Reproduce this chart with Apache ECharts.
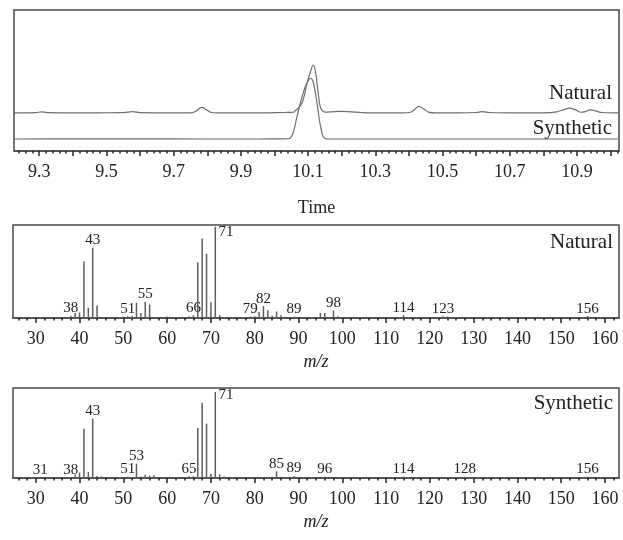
<!DOCTYPE html>
<html>
<head>
<meta charset="utf-8">
<script src="https://cdn.jsdelivr.net/npm/echarts@6/dist/echarts.min.js"></script>
<style>
  html, body { margin: 0; padding: 0; background: #fff; }
  #chart { width: 623px; height: 540px; }
</style>
</head>
<body>
<div id="chart"></div>
<script>
// Total ion chromatograms: [retention time (min), detector response]
const naturalTrace = [
  [9.225, 27.0], [9.26, 27.0], [9.29, 27.3], [9.308, 27.7], [9.33, 27.2], [9.40, 27.0],
  [9.48, 27.1], [9.55, 27.2], [9.578, 27.9], [9.60, 27.2], [9.70, 27.0], [9.75, 27.0],
  [9.765, 28.0], [9.775, 30.0], [9.784, 30.9], [9.795, 29.6], [9.81, 27.5], [9.83, 27.0],
  [9.90, 27.0], [9.98, 27.1], [10.03, 27.3], [10.057, 27.5], [10.062, 28.6], [10.071, 30.5],
  [10.082, 34.0], [10.089, 39.7], [10.097, 48.2], [10.107, 56.2], [10.115, 61.0],
  [10.122, 56.2], [10.129, 43.3], [10.135, 32.6], [10.142, 28.6], [10.151, 27.6],
  [10.17, 27.8], [10.19, 28.1], [10.22, 27.9], [10.26, 27.3], [10.30, 27.0], [10.38, 27.0],
  [10.405, 27.5], [10.418, 29.6], [10.429, 31.7], [10.443, 30.0], [10.458, 27.6], [10.48, 27.0],
  [10.55, 27.0], [10.60, 27.3], [10.618, 27.9], [10.64, 27.3], [10.72, 27.0], [10.80, 27.1],
  [10.84, 27.8], [10.86, 29.2], [10.876, 30.4], [10.895, 29.3], [10.912, 27.5], [10.922, 27.7],
  [10.94, 29.2], [10.955, 28.4], [10.975, 27.3], [11.025, 27.0]
];
const syntheticTrace = [
  [9.225, 8.5], [9.40, 8.6], [9.60, 8.6], [9.80, 8.5], [9.95, 8.5], [10.02, 8.6],
  [10.043, 8.7], [10.053, 11.3], [10.060, 17.0], [10.067, 24.3], [10.074, 31.2],
  [10.082, 38.5], [10.089, 44.0], [10.097, 48.4], [10.107, 51.6], [10.115, 49.1],
  [10.125, 36.2], [10.135, 19.9], [10.140, 14.2], [10.145, 10.1], [10.155, 8.6],
  [10.25, 8.5], [10.50, 8.5], [10.75, 8.5], [11.025, 8.5]
];

// Electron-impact mass spectra: [m/z, relative abundance %]
const naturalSpectrum = [
  [38, 2.5], [39, 5.5], [40, 6], [41, 60.7], [42, 11], [43, 75.6], [44, 13.5],
  [50, 1.5], [51, 2], [52, 2.5], [53, 16.4], [54, 5.5], [55, 17.5], [56, 14.5],
  [60, 1.5], [65, 1.5], [66, 3], [67, 60], [68, 85.5], [69, 69], [70, 17], [71, 98], [72, 3],
  [79, 1.5], [80, 2], [81, 6.5], [82, 12.7], [83, 8.4], [84, 2.5], [85, 7], [86, 3],
  [89, 1.5], [95, 5.5], [96, 5.5], [98, 8], [99, 2], [109, 1], [114, 3],
  [123, 2], [124, 1.5], [156, 2]
];
const syntheticSpectrum = [
  [31, 0.8], [38, 1], [39, 4], [40, 6], [41, 54.8], [42, 6.7], [43, 66], [44, 2.2], [45, 1.8],
  [51, 1.5], [52, 1], [53, 16], [54, 1.8], [55, 3.7], [56, 2.6], [57, 3],
  [65, 2], [66, 2], [67, 55.5], [68, 83.7], [69, 60.4], [70, 4.8], [71, 95.5], [72, 4], [73, 1.8],
  [84, 1.5], [85, 7.4], [86, 1.5], [89, 2.3], [96, 1.5], [114, 1.5], [128, 1.5], [156, 1.5]
];
const naturalPeakLabels = [38, 43, 51, 55, 66, 71, 79, 82, 89, 98, 114, 123, 156];
const syntheticPeakLabels = [31, 38, 43, 51, 53, 65, 71, 85, 89, 96, 114, 128, 156];

// Axis tick labels
const timeTickLabels = [9.3, 9.5, 9.7, 9.9, 10.1, 10.3, 10.5, 10.7, 10.9];
const mzTickLabels = [30, 40, 50, 60, 70, 80, 90, 100, 110, 120, 130, 140, 150, 160];

function steps(from, to, step) {
  const out = [];
  const n = Math.round((to - from) / step);
  for (let i = 0; i <= n; i++) out.push(+(from + i * step).toFixed(4));
  return out;
}

const SERIF = '"Liberation Serif", "DejaVu Serif", serif';
const INK = '#222';
const FRAME = '#4a4a4a';

const timeRange = { min: 9.225, max: 11.025 };
const mzRange = { min: 24.8, max: 163.2 };

function labelAxis(gridIndex, range, labels, majorTicks, fmt, name, nameGap, italic) {
  return {
    type: 'value', gridIndex, min: range.min, max: range.max,
    position: 'bottom',
    splitLine: { show: false },
    axisLine: { show: true, lineStyle: { color: FRAME, width: 1.5 } },
    axisTick: { show: true, inside: false, length: 5, customValues: majorTicks,
      lineStyle: { color: INK, width: 1.5 } },
    axisLabel: { show: true, customValues: labels, formatter: fmt, margin: 12,
      color: INK, fontFamily: SERIF, fontSize: 18 },
    name, nameLocation: 'middle', nameGap,
    nameTextStyle: { color: INK, fontFamily: SERIF, fontSize: 18,
      fontStyle: italic ? 'italic' : 'normal' }
  };
}
function minorAxis(gridIndex, range, ticks) {
  return {
    type: 'value', gridIndex, min: range.min, max: range.max,
    position: 'bottom',
    splitLine: { show: false },
    axisLine: { show: false },
    axisLabel: { show: false },
    axisTick: { show: true, inside: false, length: 2.5, customValues: ticks,
      lineStyle: { color: INK, width: 1.5 } }
  };
}
function hiddenY(gridIndex) {
  return { type: 'value', gridIndex, min: 0, max: 100, show: false };
}

function spectrumData(spectrum, labelled, topShift) {
  return spectrum.map(([mz, ab]) => {
    const item = { value: [mz, ab] };
    if (labelled.includes(mz)) {
      if (ab > 90) {
        item.label = { show: true, position: [4, topShift], align: 'left',
          verticalAlign: 'top', formatter: String(mz) };
      } else {
        item.label = { show: true, position: 'top', distance: 0, formatter: String(mz) };
      }
    }
    return item;
  });
}

const barLabelStyle = { color: INK, fontFamily: SERIF, fontSize: 15 };
const panelFont = '21px ' + SERIF;

const chart = echarts.init(document.getElementById('chart'), null, { renderer: 'canvas' });
chart.setOption({
  animation: false,
  backgroundColor: '#fff',
  grid: [
    { left: 14, right: 4, top: 10, height: 141, show: true, borderColor: FRAME, borderWidth: 1.5 },
    { left: 13, right: 4, top: 225, height: 93, show: true, borderColor: FRAME, borderWidth: 1.5 },
    { left: 13, right: 4, top: 388, height: 90, show: true, borderColor: FRAME, borderWidth: 1.5 }
  ],
  xAxis: [
    labelAxis(0, timeRange, timeTickLabels, steps(9.3, 11.0, 0.1), v => v.toFixed(1), 'Time', 48, false),
    minorAxis(0, timeRange, steps(9.24, 11.02, 0.02)),
    labelAxis(1, mzRange, mzTickLabels, mzTickLabels, v => String(Math.round(v)), 'm/z', 35, true),
    minorAxis(1, mzRange, steps(26, 162, 2)),
    labelAxis(2, mzRange, mzTickLabels, mzTickLabels, v => String(Math.round(v)), 'm/z', 35, true),
    minorAxis(2, mzRange, steps(26, 162, 2))
  ],
  yAxis: [hiddenY(0), hiddenY(1), hiddenY(2)],
  series: [
    { name: 'Natural', type: 'line', xAxisIndex: 0, yAxisIndex: 0, data: naturalTrace,
      showSymbol: false, smooth: 0.35, lineStyle: { color: '#6e6e6e', width: 1.2 } },
    { name: 'Synthetic', type: 'line', xAxisIndex: 0, yAxisIndex: 0, data: syntheticTrace,
      showSymbol: false, smooth: 0.35, lineStyle: { color: '#6e6e6e', width: 1.2 } },
    { name: 'Natural MS', type: 'bar', xAxisIndex: 2, yAxisIndex: 1, barWidth: 1.5,
      itemStyle: { color: '#5e5e5e' }, label: barLabelStyle,
      data: spectrumData(naturalSpectrum, naturalPeakLabels, -2) },
    { name: 'Synthetic MS', type: 'bar', xAxisIndex: 4, yAxisIndex: 2, barWidth: 1.5,
      itemStyle: { color: '#5e5e5e' }, label: barLabelStyle,
      data: spectrumData(syntheticSpectrum, syntheticPeakLabels, -4) }
  ],
  graphic: [
    { type: 'text', right: 11, top: 83, style: { text: 'Natural', fill: INK, font: panelFont } },
    { type: 'text', right: 11, top: 118, style: { text: 'Synthetic', fill: INK, font: panelFont } },
    { type: 'text', right: 10, top: 232, style: { text: 'Natural', fill: INK, font: panelFont } },
    { type: 'text', right: 10, top: 393, style: { text: 'Synthetic', fill: INK, font: panelFont } }
  ]
});
</script>
</body>
</html>
